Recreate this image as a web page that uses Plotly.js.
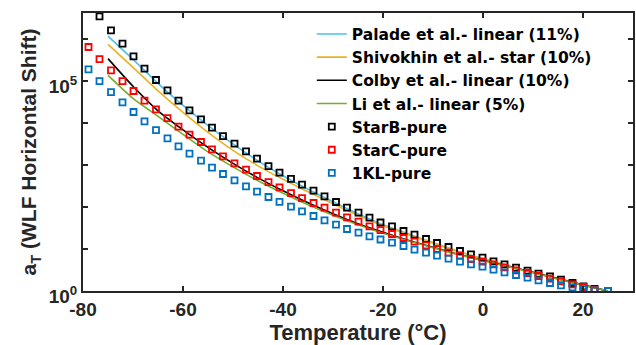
<!DOCTYPE html>
<html>
<head>
<meta charset="utf-8">
<script src="https://cdn.plot.ly/plotly-3.0.1.min.js"></script>
<style>
  html, body { margin: 0; padding: 0; background: #ffffff; }
  #chart { width: 636px; height: 345px; }
</style>
</head>
<body>
<div id="chart"></div>
<script>
// Temperatures (°C) of the measured shift factors
const tempMeasured = [-78.9, -76.7, -74.4, -72.1, -69.9, -67.7, -65.4, -63.1, -60.9, -58.7,
  -56.4, -54.2, -52.0, -49.7, -47.4, -45.2, -42.9, -40.7, -38.4, -36.2,
  -33.9, -31.7, -29.4, -27.2, -24.9, -22.7, -20.5, -18.2, -15.9, -13.7,
  -11.4, -9.2, -6.9, -4.6, -2.4, -0.1, 2.1, 4.3, 6.6, 8.9,
  11.1, 13.4, 15.6, 17.9, 20.1, 22.3, 25.0];

// log10(aT) of the measured samples
const starBLog = [null, 6.540, 6.207, 5.890, 5.588, 5.295, 5.024, 4.779, 4.533, 4.302,
  4.088, 3.890, 3.690, 3.510, 3.326, 3.152, 2.976, 2.819, 2.671, 2.533,
  2.390, 2.255, 2.119, 1.986, 1.867, 1.748, 1.631, 1.540, 1.429, 1.343,
  1.238, 1.143, 1.048, 0.952, 0.874, 0.795, 0.707, 0.636, 0.557, 0.486,
  0.414, 0.350, 0.271, 0.190, 0.112, 0.050, 0];
const starCLog = [5.810, 5.524, 5.255, 5.000, 4.762, 4.533, 4.326, 4.119, 3.914, 3.724,
  3.548, 3.374, 3.207, 3.040, 2.890, 2.738, 2.595, 2.469, 2.333, 2.214,
  2.095, 1.986, 1.867, 1.755, 1.652, 1.540, 1.450, 1.357, 1.262, 1.176,
  1.088, 1.000, 0.914, 0.843, 0.762, 0.700, 0.635, 0.564, 0.493, 0.429,
  0.357, 0.295, 0.231, 0.160, 0.095, 0.033, 0];
const kl1Log = [5.279, 5.000, 4.738, 4.493, 4.262, 4.040, 3.833, 3.636, 3.445, 3.271,
  3.105, 2.938, 2.786, 2.636, 2.493, 2.367, 2.238, 2.124, 2.010, 1.898,
  1.786, 1.683, 1.581, 1.476, 1.390, 1.302, 1.226, 1.152, 1.071, 0.986,
  0.914, 0.843, 0.771, 0.700, 0.636, 0.581, 0.510, 0.445, 0.381, 0.319,
  0.255, 0.190, 0.136, 0.088, 0.040, 0.015, 0];

// Temperatures (°C) of the model curves
const tempModel = [-75, -70, -65, -60, -55, -50, -45, -40, -35, -30, -25,
  -20, -15, -10, -5, 0, 5, 10, 15, 20, 25];

// log10(aT) of the literature WLF curves
const paladeLog = [6.071, 5.517, 4.945, 4.421, 3.945, 3.505, 3.100, 2.743, 2.421, 2.124, 1.838,
  1.576, 1.362, 1.152, 0.945, 0.771, 0.600, 0.440, 0.288, 0.131, 0];
const shivokhinLog = [5.874, 5.326, 4.767, 4.255, 3.779, 3.350, 2.981, 2.660, 2.362, 2.076, 1.802,
  1.552, 1.345, 1.140, 0.938, 0.767, 0.598, 0.438, 0.286, 0.131, 0];
const colbyLog = [5.533, 4.874, 4.290, 3.838, 3.421, 3.040, 2.695, 2.386, 2.100, 1.838, 1.600,
  1.398, 1.207, 1.040, 0.874, 0.731, 0.588, 0.445, 0.295, 0.148, 0];
const liLog = [5.136, 4.588, 4.160, 3.731, 3.314, 2.957, 2.624, 2.326, 2.052, 1.802, 1.576,
  1.374, 1.195, 1.029, 0.867, 0.724, 0.581, 0.438, 0.288, 0.143, 0];

const modelNames = ['Palade et al.- linear (11%)', 'Shivokhin et al.- star (10%)',
  'Colby et al.- linear (10%)', 'Li et al.- linear (5%)'];
const sampleNames = ['StarB-pure', 'StarC-pure', '1KL-pure'];

const xTickVals = [-80, -60, -40, -20, 0, 20];
const xTickText = ['-80', '-60', '-40', '-20', '0', '20'];
const yTickVals = [1, 10, 100, 1e3, 1e4, 1e5, 1e6];
const yTickText = ['10<sup>0</sup>', '', '', '', '', '10<sup>5</sup>', ''];

const toAT = arr => arr.map(v => (v === null ? null : Math.pow(10, v)));

const modelColors = ['#4DBEEE', '#EDB120', '#000000', '#77AC30'];
const sampleColors = ['#000000', '#FF0000', '#0072BD'];

const traces = [];
[paladeLog, shivokhinLog, colbyLog, liLog].forEach((logs, i) => {
  traces.push({
    type: 'scatter', mode: 'lines', name: modelNames[i],
    x: tempModel, y: toAT(logs),
    line: { color: modelColors[i], width: 1.6, shape: 'spline', smoothing: 0.6 }
  });
});
[starBLog, starCLog, kl1Log].forEach((logs, i) => {
  traces.push({
    type: 'scatter', mode: 'markers', name: sampleNames[i],
    x: tempMeasured, y: toAT(logs),
    marker: { symbol: 'square-open', size: 6, color: sampleColors[i],
              line: { color: sampleColors[i], width: 1.8 } }
  });
});

const fontFam = 'Arial, "Liberation Sans", sans-serif';
const legendFam = '"DejaVu Sans", Arial, sans-serif';
const axisColor = '#262626';

const layout = {
  width: 636, height: 345,
  margin: { l: 83, r: 3, t: 13, b: 54 },
  paper_bgcolor: '#ffffff', plot_bgcolor: '#ffffff',
  font: { family: fontFam, color: axisColor, weight: 'bold' },
  showlegend: true,
  legend: {
    x: 0.416, y: 0.984, xanchor: 'left', yanchor: 'top',
    bgcolor: 'rgba(0,0,0,0)', borderwidth: 0,
    font: { family: legendFam, size: 15.5, color: '#000000', weight: 'bold' },
    tracegroupgap: 0
  },
  xaxis: {
    range: [-80, 30], showgrid: false, zeroline: false,
    tickmode: 'array', tickvals: xTickVals, ticktext: xTickText,
    ticks: 'inside', ticklen: 5, tickwidth: 1.5, tickcolor: axisColor,
    showline: true, linecolor: axisColor, linewidth: 2, mirror: 'ticks',
    tickfont: { family: fontFam, size: 19, color: axisColor, weight: 'bold' },
    title: { text: 'Temperature (°C)', standoff: 4,
             font: { family: fontFam, size: 22, color: axisColor, weight: 'bold' } }
  },
  yaxis: {
    type: 'log', range: [0, 6.62], showgrid: false, zeroline: false,
    tickmode: 'array', tickvals: yTickVals, ticktext: yTickText,
    ticks: 'inside', ticklen: 5, tickwidth: 1.5, tickcolor: axisColor,
    ticklabelshift: 5,
    showline: true, linecolor: axisColor, linewidth: 2, mirror: 'ticks',
    tickfont: { family: fontFam, size: 19, color: axisColor, weight: 'bold' },
    title: { text: 'a<sub>T</sub> (WLF Horizontal Shift)', standoff: 6,
             font: { family: fontFam, size: 21, color: axisColor, weight: 'bold' } }
  }
};

Plotly.newPlot('chart', traces, layout, { displayModeBar: false, staticPlot: true });
</script>
</body>
</html>
